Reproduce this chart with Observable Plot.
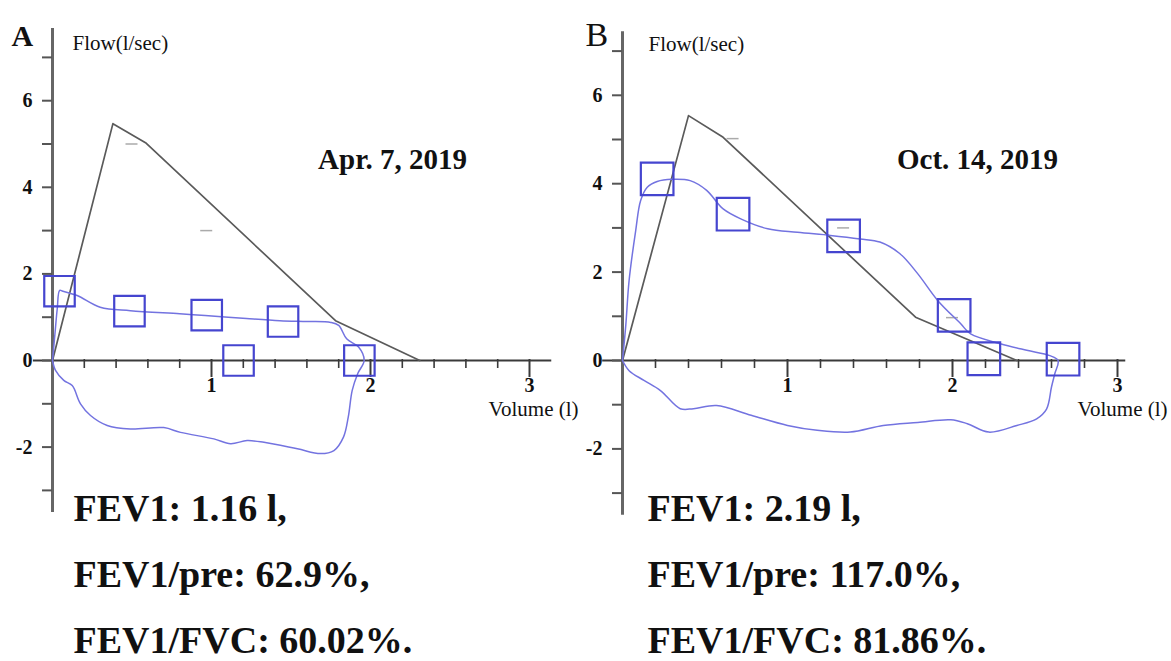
<!DOCTYPE html>
<html>
<head>
<meta charset="utf-8">
<script src="https://cdn.jsdelivr.net/npm/d3@7"></script>
<script src="https://cdn.jsdelivr.net/npm/@observablehq/plot@0.6"></script>
<style>
  body { margin: 0; background: #fff; }
  #wrap { position: relative; width: 1171px; height: 661px; overflow: hidden; background: #fff; }
  .panel { position: absolute; top: 0; }
  .panel svg { overflow: visible; }
</style>
</head>
<body>
<div id="wrap">
  <div class="panel" id="pA" style="left:0px"></div>
  <div class="panel" id="pB" style="left:585px"></div>
</div>
<script>
// ---------- Data ----------
const yTicks = [-3, -2, -1, 0, 1, 2, 3, 4, 5, 6, 7];
const yTickLabels = [6, 4, 2, 0, -2];
const xMinorTicks = [0.2, 0.4, 0.6, 0.8, 1.2, 1.4, 1.6, 1.8, 2.2, 2.4, 2.6, 2.8];
const xMajorTicks = [1, 2, 3];

// Panel A (Apr. 7, 2019)
const predictedA = [[0, 0], [0.38, 5.47], [0.585, 5.03], [1.78, 0.92], [2.31, 0]];
const predMarksA = [[0.5, 5.0], [0.97, 3.0]];
const measuredA = [
  [0, 0], [0.015, 0.6], [0.03, 1.2], [0.045, 1.62], [0.065, 1.6], [0.155, 1.5], [0.30, 1.23],
  [0.49, 1.15], [0.8, 1.08], [0.96, 1.04], [1.22, 0.97], [1.43, 0.92], [1.6, 0.9], [1.75, 0.88],
  [1.80, 0.81], [1.85, 0.5], [1.925, 0.31], [1.96, 0],
  [1.92, -0.3], [1.885, -0.69], [1.86, -1.31], [1.83, -1.77], [1.77, -2.08], [1.686, -2.15],
  [1.54, -2.04], [1.33, -1.89], [1.224, -1.85], [1.12, -1.92], [1.015, -1.81], [0.805, -1.66],
  [0.70, -1.55], [0.49, -1.58], [0.344, -1.50], [0.239, -1.27], [0.176, -1.0], [0.124, -0.58],
  [0.071, -0.46], [0.019, -0.23], [0, 0]
];
const squaresA = [[0.044, 1.6], [0.484, 1.14], [0.97, 1.05], [1.45, 0.9], [1.17, 0.0], [1.93, 0.0]];
const dateA = "Apr. 7, 2019";
const resultsA = ["FEV1: 1.16 l,", "FEV1/pre: 62.9%,", "FEV1/FVC: 60.02%."];

// Panel B (Oct. 14, 2019)
const predictedB = [[0, 0], [0.40, 5.54], [0.61, 5.05], [1.776, 0.98], [2.39, 0]];
const predMarksB = [[0.67, 5.02], [1.34, 3.0], [2.0, 0.97]];
const measuredB = [
  [0, 0], [0.02, 0.8], [0.04, 1.81], [0.08, 2.94], [0.11, 3.62], [0.15, 3.92], [0.21, 4.05],
  [0.30, 4.1], [0.41, 4.07], [0.51, 3.85], [0.61, 3.43], [0.72, 3.2], [0.88, 2.98], [1.06, 2.90],
  [1.26, 2.83], [1.44, 2.75], [1.56, 2.68], [1.68, 2.42], [1.79, 1.96], [1.91, 1.36], [2.05, 0.83],
  [2.11, 0.60], [2.29, 0.38], [2.45, 0.23], [2.59, 0.11], [2.64, 0],
  [2.62, -0.3], [2.60, -0.6], [2.57, -1.1], [2.51, -1.32], [2.39, -1.47], [2.22, -1.62],
  [2.09, -1.43], [1.99, -1.34], [1.79, -1.40], [1.58, -1.47], [1.38, -1.62], [1.18, -1.58],
  [1.0, -1.47], [0.78, -1.24], [0.57, -1.02], [0.43, -1.09], [0.35, -1.09], [0.23, -0.68],
  [0.13, -0.45], [0.04, -0.23], [0, 0]
];
const squaresB = [[0.21, 4.11], [0.67, 3.31], [1.34, 2.82], [2.01, 1.02], [2.19, 0.04], [2.67, 0.03]];
const dateB = "Oct. 14, 2019";
const resultsB = ["FEV1: 2.19 l,", "FEV1/pre: 117.0%,", "FEV1/FVC: 81.86%."];

// ---------- Drawing ----------
const SERIF = "'Liberation Serif', 'Times New Roman', Times, serif";
const INK = "#111";

function panel(cfg) {
  const {x0, ppx, y0, ppy, xDom, yDom, width, letter, letterBold, letterSize, letterX,
         flowX, flowY, volX, volY, dateX, dateY, textX, sqR,
         predicted, predMarks, measured, squares, date, results} = cfg;
  const fx = px => px / ppx, fy = px => px / ppy;
  return Plot.plot({
    width, height: 661,
    marginLeft: 0, marginRight: 0, marginTop: 0, marginBottom: 0,
    x: {domain: xDom, range: xDom.map(v => x0 + v * ppx), axis: null},
    y: {domain: yDom, range: yDom.map(v => y0 - v * ppy), axis: null},
    style: {fontFamily: SERIF, overflow: "visible", background: "transparent", color: INK},
    marks: [
      // axes
      Plot.ruleY([0], {x1: xDom[0], x2: xDom[1], stroke: "#3a3a3a", strokeWidth: 2}),
      Plot.ruleX([0], {y1: yDom[0], y2: yDom[1], stroke: "#666", strokeWidth: 3}),
      Plot.ruleY(yTicks, {y: d => d, x1: -fx(10), x2: 0, stroke: "#555", strokeWidth: 2}),
      Plot.ruleX(xMinorTicks, {x: d => d, y1: fy(1), y2: -fy(8), stroke: "#3a3a3a", strokeWidth: 1.6}),
      Plot.ruleX(xMajorTicks, {x: d => d, y1: fy(1), y2: -fy(17), stroke: "#3a3a3a", strokeWidth: 2}),
      Plot.text(yTickLabels, {x: 0, y: d => d, text: d => String(d), dx: -20, textAnchor: "end",
        fontSize: 20, fontWeight: "bold", fill: INK, fontFamily: SERIF}),
      Plot.text(xMajorTicks, {x: d => d, y: 0, text: d => String(d), dy: 25,
        fontSize: 20, fontWeight: "bold", fill: INK, fontFamily: SERIF}),
      // predicted curve and marks
      Plot.line(predicted, {x: d => d[0], y: d => d[1], stroke: "#5a5a5a", strokeWidth: 1.7}),
      Plot.ruleY(predMarks, {y: d => d[1], x1: d => d[0] - fx(6), x2: d => d[0] + fx(6), stroke: "#aaa", strokeWidth: 1.5}),
      // measured loop
      Plot.line(measured, {x: d => d[0], y: d => d[1], curve: "catmull-rom", stroke: "#7373e0", strokeWidth: 1.5}),
      Plot.dot(squares, {x: d => d[0], y: d => d[1], symbol: "square", r: sqR, fill: "none", stroke: "#4545cf", strokeWidth: 2.2}),
      // labels
      Plot.text([letter], {frameAnchor: "top-left", dx: letterX, dy: 45, lineAnchor: "bottom",
        fontSize: letterSize, fontWeight: letterBold ? "bold" : "normal", fill: INK, fontFamily: SERIF}),
      Plot.text(["Flow(l/sec)"], {frameAnchor: "top-left", dx: flowX, dy: flowY, lineAnchor: "bottom", textAnchor: "start",
        fontSize: 21, fill: INK, fontFamily: SERIF}),
      Plot.text(["Volume (l)"], {frameAnchor: "top-left", dx: volX, dy: volY, lineAnchor: "bottom", textAnchor: "start",
        fontSize: 21, fill: INK, fontFamily: SERIF}),
      Plot.text([date], {frameAnchor: "top-left", dx: dateX, dy: dateY, lineAnchor: "bottom", textAnchor: "middle",
        fontSize: 29, fontWeight: "bold", fill: INK, fontFamily: SERIF}),
      Plot.text([results.join("\n")], {frameAnchor: "top-left", dx: textX, dy: 652, lineAnchor: "bottom", textAnchor: "start",
        lineHeight: 66 / 38, fontSize: 38, fontWeight: "bold", fill: INK, fontFamily: SERIF})
    ]
  });
}

document.getElementById("pA").append(panel({
  x0: 52, ppx: 159, y0: 360, ppy: 43.3, xDom: [-0.12, 3.14], yDom: [-3.51, 7.67], width: 585,
  letter: "A", letterBold: true, letterSize: 30, letterX: 11,
  flowX: 72, flowY: 49, volX: 488, volY: 415, dateX: 392, dateY: 168, textX: 73, sqR: 17.2,
  predicted: predictedA, predMarks: predMarksA, measured: measuredA, squares: squaresA,
  date: dateA, results: resultsA
}));

document.getElementById("pB").append(panel({
  x0: 37, ppx: 165, y0: 360, ppy: 44.2, xDom: [-0.12, 3.05], yDom: [-3.5, 7.44], width: 586,
  letter: "B", letterBold: false, letterSize: 34, letterX: 0,
  flowX: 63, flowY: 50, volX: 492, volY: 415, dateX: 392, dateY: 168, textX: 62, sqR: 18.4,
  predicted: predictedB, predMarks: predMarksB, measured: measuredB, squares: squaresB,
  date: dateB, results: resultsB
}));
</script>
</body>
</html>
